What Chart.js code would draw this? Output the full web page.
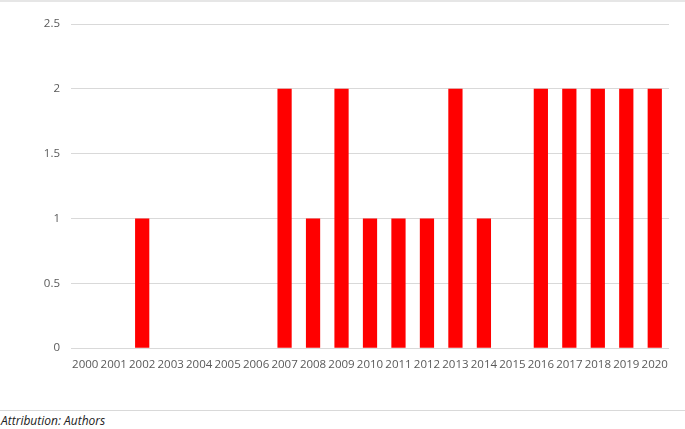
<!DOCTYPE html>
<html>
<head>
<meta charset="UTF-8">
<script src="https://cdn.jsdelivr.net/npm/chart.js"></script>
<style>
  body { margin: 0; background: #fff; }
  .topline { position: absolute; left: 0; top: 0; width: 685px; height: 2px; background: #e6e6e6; }
  .wrap { position: absolute; left: 0; top: 2px; width: 685px; height: 372px; }
  .bottomline { position: absolute; left: 0; top: 410px; width: 685px; height: 1px; background: #d9d9d9; }
  .attr { position: absolute; left: 1px; top: 412px; font-family: "Open Sans", sans-serif; font-style: italic; font-size: 12px; color: #222; }
</style>
</head>
<body>
<div class="topline"></div>
<div class="wrap"><canvas id="myChart"></canvas></div>
<div class="bottomline"></div>
<div class="attr">Attribution: Authors</div>
<script>
// years on x axis
var years = ["2000","2001","2002","2003","2004","2005","2006","2007","2008","2009","2010",
             "2011","2012","2013","2014","2015","2016","2017","2018","2019","2020"];
// count per year
var counts = [0,0,1,0,0,0,0,2,1,2,1,1,1,2,1,0,2,2,2,2,2];

var yTicks = [0, 0.5, 1, 1.5, 2, 2.5];
var yTickLabels = ["0", "0.5", "1", "1.5", "2", "2.5"];

new Chart(document.getElementById('myChart'), {
  type: 'bar',
  data: {
    labels: years,
    datasets: [{
      data: counts,
      backgroundColor: '#ff0000',
      barPercentage: 0.5,
      categoryPercentage: 1.0
    }]
  },
  options: {
    responsive: true,
    maintainAspectRatio: false,
    animation: false,
    layout: { padding: { top: 22, right: 16, left: 0, bottom: 0 } },
    plugins: { legend: { display: false }, tooltip: { enabled: false } },
    scales: {
      x: {
        grid: { display: false },
        border: { display: false },
        ticks: { color: '#595959', font: { family: 'Open Sans', size: 11.5 }, maxRotation: 0, autoSkip: false, padding: 2 }
      },
      y: {
        min: 0, max: 2.5,
        afterBuildTicks: function(axis) { axis.ticks = yTicks.map(function(v){ return {value: v}; }); },
        afterFit: function(axis) { axis.width = 71; },
        grid: { color: '#d9d9d9', drawTicks: false },
        border: { display: false },
        ticks: {
          color: '#595959', font: { family: 'Open Sans', size: 11.5 }, padding: 11,
          callback: function(v) { return yTickLabels[yTicks.indexOf(v)]; }
        }
      }
    }
  }
});
</script>
</body>
</html>
